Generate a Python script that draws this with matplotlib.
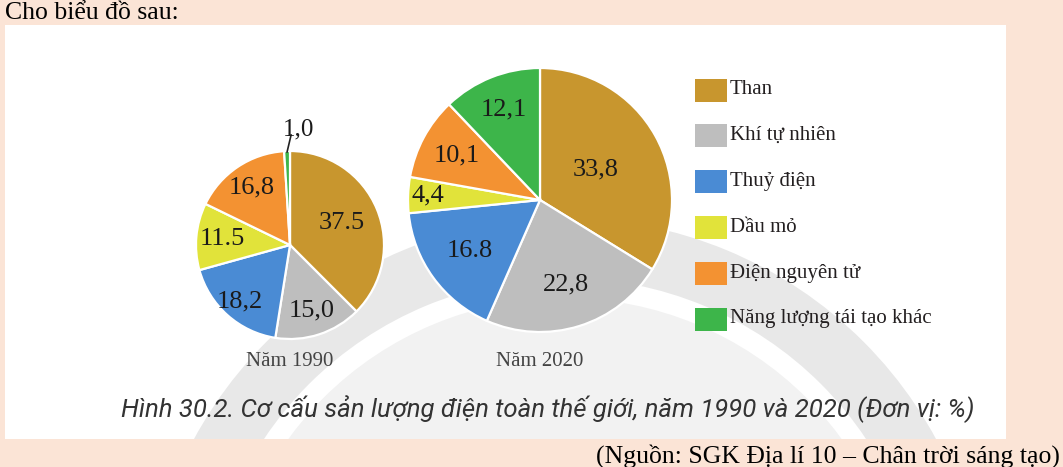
import matplotlib.pyplot as plt
from matplotlib.patches import Rectangle, Circle, Wedge
import numpy as np

# du lieu
categories = ["Than", "Khí tự nhiên", "Thuỷ điện", "Dầu mỏ", "Điện nguyên tử", "Năng lượng tái tạo khác"]
values_1990 = [37.5, 15.0, 18.2, 11.5, 16.8, 1.0]
values_2020 = [33.8, 22.8, 16.8, 4.4, 10.1, 12.1]
labels_1990 = ["37.5", "15,0", "18,2", "11.5", "16,8", "1,0"]
labels_2020 = ["33,8", "22,8", "16.8", "4,4", "10,1", "12,1"]
colors = ["#C8962E", "#BEBEBE", "#4A8BD4", "#E1E33A", "#F39232", "#3DB54A"]

W, H = 1063, 467
peach = "#FBE4D6"
serif = ["Liberation Serif", "DejaVu Serif"]

fig = plt.figure(figsize=(W / 100, H / 100), dpi=100)
fig.patch.set_facecolor(peach)
ax = fig.add_axes([0, 0, 1, 1])
ax.set_facecolor(peach)

def py(y):
    # pixel y (top down) -> data y
    return H - y

# khung trang
panel = Rectangle((5, py(439)), 1001, 414, facecolor="white", edgecolor="none", zorder=0)
ax.add_patch(panel)

# vong trang tri mo phia sau
cx, cy = 565, py(640)
disk = Circle((cx, cy), 342, facecolor="#F2F2F2", edgecolor="none", zorder=0.5)
band = Wedge((cx, cy), 422, 0, 360, width=60, facecolor="#E8E8E8", edgecolor="none", zorder=0.5)
for p in (disk, band):
    ax.add_patch(p)
    p.set_clip_path(panel)

def draw_pie(vals, labs, center, radius, fracs):
    wedges, _ = ax.pie(vals, colors=colors, startangle=90, counterclock=False,
                       center=center, radius=radius, frame=True,
                       wedgeprops=dict(edgecolor="white", linewidth=1.6))
    for w in wedges:
        w.set_zorder(2)
    for w, lab, f in zip(wedges, labs, fracs):
        a = np.deg2rad((w.theta1 + w.theta2) / 2)
        if f is None:
            x0 = center[0] + radius * 0.99 * np.cos(a)
            y0 = center[1] + radius * 0.99 * np.sin(a)
            ax.plot([x0, x0 + 4], [y0, y0 + 17], color="#222222", lw=1.2, zorder=3)
            ax.text(x0 + 11, y0 + 23, lab, ha="center", va="center", fontsize=18,
                    family=serif, color="#1A1A1A", zorder=3)
            continue
        ax.text(center[0] + radius * f * np.cos(a), center[1] + radius * f * np.sin(a), lab,
                ha="center", va="center", fontsize=19, family=serif, color="#1A1A1A", zorder=3)

draw_pie(values_1990, labels_1990, (290, py(245)), 94, [0.6, 0.73, 0.8, 0.72, 0.74, None])
draw_pie(values_2020, labels_2020, (540, py(200)), 132, [0.48, 0.67, 0.66, 0.85, 0.72, 0.74])

ax.text(290, py(362), "Năm 1990", ha="center", va="center", fontsize=15, family=serif, color="#444444")
ax.text(540, py(362), "Năm 2020", ha="center", va="center", fontsize=15, family=serif, color="#444444")

# chu giai
for i, (name, c) in enumerate(zip(categories, colors)):
    yc = py(90 + i * 45.8)
    ax.add_patch(Rectangle((695, yc - 11.5), 32, 23, facecolor=c, edgecolor="none", zorder=2))
    ax.text(730, yc, name, ha="left", va="center", fontsize=15, family=serif, color="#231F20")

ax.text(548, py(409), "Hình 30.2. Cơ cấu sản lượng điện toàn thế giới, năm 1990 và 2020 (Đơn vị: %)",
        ha="center", va="center", fontsize=18.5, style="italic",
        family=["Roboto", "DejaVu Sans"], color="#333333")

ax.text(5, py(13), "Cho biểu đồ sau:", ha="left", va="center", fontsize=18.5, family=serif, color="black")
ax.text(1060, py(456), "(Nguồn: SGK Địa lí 10 – Chân trời sáng tạo)", ha="right", va="center",
        fontsize=18.5, family=serif, color="black")

ax.set_xlim(0, W)
ax.set_ylim(0, H)
ax.set_aspect("equal")
ax.axis("off")

fig.savefig("out.png", dpi=100, facecolor=peach)
